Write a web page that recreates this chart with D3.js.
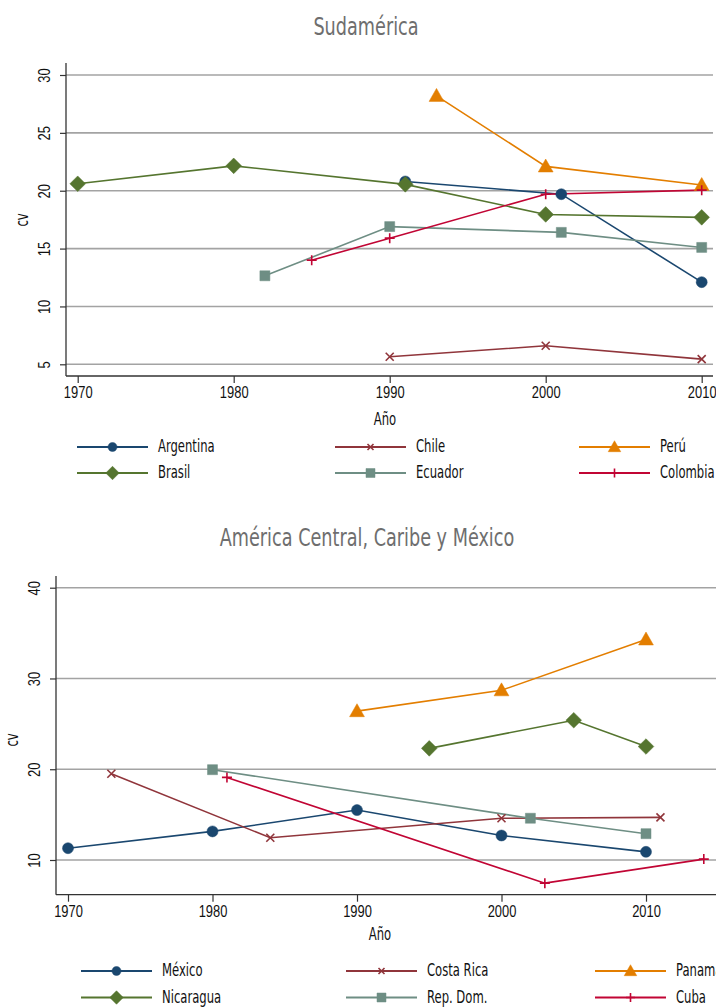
<!DOCTYPE html>
<html><head><meta charset="utf-8">
<script src="https://cdn.jsdelivr.net/npm/d3@7/dist/d3.min.js"></script>
<style>
body{margin:0;background:#fff;}
svg{display:block;font-family:"Liberation Sans Narrow","DejaVu Sans Condensed","Roboto Condensed",sans-serif;}
</style></head>
<body><svg id="c" width="716" height="1007"></svg>
<script>
// ---- Data: Sudamérica ----
const saNames = ["Argentina","Chile","Perú","Brasil","Ecuador","Colombia"];
const saArgentina = [[1991,20.8],[2001,19.7],[2010,12.1]];
const saChile = [[1990,5.65],[2000,6.6],[2010,5.45]];
const saPeru = [[1993,28.2],[2000,22.1],[2010,20.5]];
const saBrasil = [[1970,20.6],[1980,22.15],[1991,20.55],[2000,17.95],[2010,17.7]];
const saEcuador = [[1982,12.65],[1990,16.9],[2001,16.4],[2010,15.1]];
const saColombia = [[1985,14.0],[1990,15.9],[2000,19.7],[2010,20.05]];
const saYTicks = [5,10,15,20,25,30];
const xTicks = [1970,1980,1990,2000,2010];

// ---- Data: América Central, Caribe y México ----
const acNames = ["México","Costa Rica","Panamá","Nicaragua","Rep. Dom.","Cuba"];
const acMexico = [[1970,11.3],[1980,13.15],[1990,15.5],[2000,12.7],[2010,10.9]];
const acCostaRica = [[1973,19.5],[1984,12.45],[2000,14.6],[2011,14.7]];
const acPanama = [[1990,26.4],[2000,28.7],[2010,34.3]];
const acNicaragua = [[1995,22.3],[2005,25.4],[2010,22.5]];
const acRepDom = [[1980,19.95],[2002,14.6],[2010,12.9]];
const acCuba = [[1981,19.1],[2003,7.45],[2014,10.1]];
const acYTicks = [10,20,30,40];

const colors = ["#1a476f","#90353b","#e37e00","#55752f","#6e8e84","#c10534"];
const markers = ["circle","x","triangle","diamond","square","plus"];

const SX = 0.76;   // horizontal condensing of text (reference uses a condensed face)
const FS = 17;

const svg = d3.select("#c");

function markerPath(type, s){
  switch(type){
    case "circle": return d3.symbol(d3.symbolCircle, Math.PI*s*s)();
    case "square": return `M${-s},${-s}H${s}V${s}H${-s}Z`;
    case "diamond": { const d=s*1.35; return `M0,${-d}L${d},0L0,${d}L${-d},0Z`; }
    case "triangle": { const h=s*1.9; return `M0,${-h*0.6}L${h*0.6},${h*0.45}L${-h*0.6},${h*0.45}Z`; }
    case "x": return `M${-s},${-s}L${s},${s}M${-s},${s}L${s},${-s}`;
    case "plus": return `M${-s},0H${s}M0,${-s}V${s}`;
  }
}
function drawMarker(g, type, color, x, y, s){
  const stroke = (type==="x"||type==="plus");
  g.append("path").attr("d", markerPath(type,s))
    .attr("transform",`translate(${x},${y})`)
    .attr("fill", stroke?"none":color)
    .attr("stroke", color)
    .attr("stroke-width", stroke?1.6:0.5);
}
function text(g, x, y, str, opts){
  opts = opts||{};
  const rot = opts.rotate ? ` rotate(${opts.rotate})` : "";
  return g.append("text")
    .attr("transform",`translate(${x},${y})${rot} scale(${opts.sx||SX},1)`)
    .attr("text-anchor",opts.anchor||"start")
    .attr("dy",opts.dy||0)
    .attr("font-size",opts.size||FS)
    .attr("fill",opts.fill||"#111")
    .text(str);
}

function panel(cfg){
  const g = svg.append("g");
  const x = d3.scaleLinear().domain([1970,2010]).range(cfg.xr);
  const y = d3.scaleLinear().domain(cfg.yd).range(cfg.yr);
  text(g, cfg.titleX, cfg.titleY, cfg.title, {anchor:"middle", size:25, fill:"#6e6e6e", sx:0.785});
  // gridlines
  g.selectAll(".grid").data(cfg.yTicks).join("line")
    .attr("x1",cfg.axX).attr("x2",cfg.gridRight)
    .attr("y1",d=>y(d)).attr("y2",d=>y(d))
    .attr("stroke","#a3a3a3").attr("stroke-width",1.6);
  // y axis
  const yAxis = d3.axisLeft(y).tickValues(cfg.yTicks).tickSize(6).tickSizeOuter(0).tickFormat(d3.format("d"));
  const ya = g.append("g").attr("transform",`translate(${cfg.axX},0)`).call(yAxis);
  ya.select(".domain").remove();
  ya.selectAll(".tick line").attr("stroke","#333").attr("stroke-width",1.2);
  ya.selectAll(".tick text").attr("font-size",FS).attr("fill","#111")
    .attr("x",0).attr("y",0).attr("dy",0).attr("text-anchor","middle")
    .attr("transform",`translate(${cfg.yLabX - cfg.axX},0) rotate(-90) scale(${SX},1)`);
  g.append("line").attr("x1",cfg.axX).attr("x2",cfg.axX).attr("y1",cfg.axTop).attr("y2",cfg.axBottom)
    .attr("stroke","#333").attr("stroke-width",1.3);
  // x axis
  const xAxis = d3.axisBottom(x).tickValues(xTicks).tickSize(7).tickSizeOuter(0).tickFormat(d3.format("d"));
  const xa = g.append("g").attr("transform",`translate(0,${cfg.axBottom})`).call(xAxis);
  xa.select(".domain").remove();
  xa.selectAll(".tick line").attr("stroke","#333").attr("stroke-width",1.2);
  xa.selectAll(".tick text").attr("font-size",FS).attr("fill","#111")
    .attr("y",0).attr("dy","0.71em")
    .attr("transform",`translate(0,10) scale(${SX},1)`);
  g.append("line").attr("x1",cfg.axX).attr("x2",cfg.gridRight).attr("y1",cfg.axBottom).attr("y2",cfg.axBottom)
    .attr("stroke","#333").attr("stroke-width",1.3);
  // axis titles
  text(g, cfg.cvX, cfg.cvY, "cv", {anchor:"middle", rotate:-90});
  text(g, cfg.anoX, cfg.anoY, "Año", {anchor:"middle"});
  // series
  const line = d3.line().x(d=>x(d[0])).y(d=>y(d[1]));
  cfg.series.forEach((s,i)=>{
    g.append("path").datum(s).attr("d",line).attr("fill","none")
      .attr("stroke",colors[i]).attr("stroke-width",1.6);
  });
  cfg.series.forEach((s,i)=>{
    const sz = {circle:5.5,x:4,triangle:6.5,diamond:5.8,square:5,plus:5}[markers[i]];
    s.forEach(d=>drawMarker(g, markers[i], colors[i], x(d[0]), y(d[1]), sz));
  });
  // legend
  cfg.names.forEach((n,i)=>{
    const col = i%3, row = Math.floor(i/3);
    const lx = cfg.legX[col], ly = cfg.legY[row];
    g.append("line").attr("x1",lx).attr("x2",lx+71).attr("y1",ly).attr("y2",ly)
      .attr("stroke",colors[i]).attr("stroke-width",1.8);
    const sz = {circle:4.5,x:3,triangle:5.5,diamond:5,square:4.5,plus:4.5}[markers[i]];
    drawMarker(g, markers[i], colors[i], lx+35.5, ly, sz);
    text(g, lx+81, ly, n, {dy:"0.3em"});
  });
}

panel({
  title:"Sudamérica", titleX:366, titleY:35,
  xr:[77.7,701.7], yd:[5,30], yr:[364.3,75],
  yTicks:saYTicks, axX:66, axTop:63, axBottom:376, gridRight:713,
  yLabX:50, cvX:28, cvY:220, anoX:385, anoY:425,
  series:[saArgentina,saChile,saPeru,saBrasil,saEcuador,saColombia],
  names:saNames, legX:[77,335,579], legY:[447,473]
});
panel({
  title:"América Central, Caribe y México", titleX:367, titleY:546,
  xr:[68,646], yd:[10,40], yr:[860,587.7],
  yTicks:acYTicks, axX:56, axTop:576, axBottom:894.7, gridRight:716,
  yLabX:40, cvX:18, cvY:740, anoX:380, anoY:940,
  series:[acMexico,acCostaRica,acPanama,acNicaragua,acRepDom,acCuba],
  names:acNames, legX:[81,346,595], legY:[971,997.5]
});
</script>
</body></html>
